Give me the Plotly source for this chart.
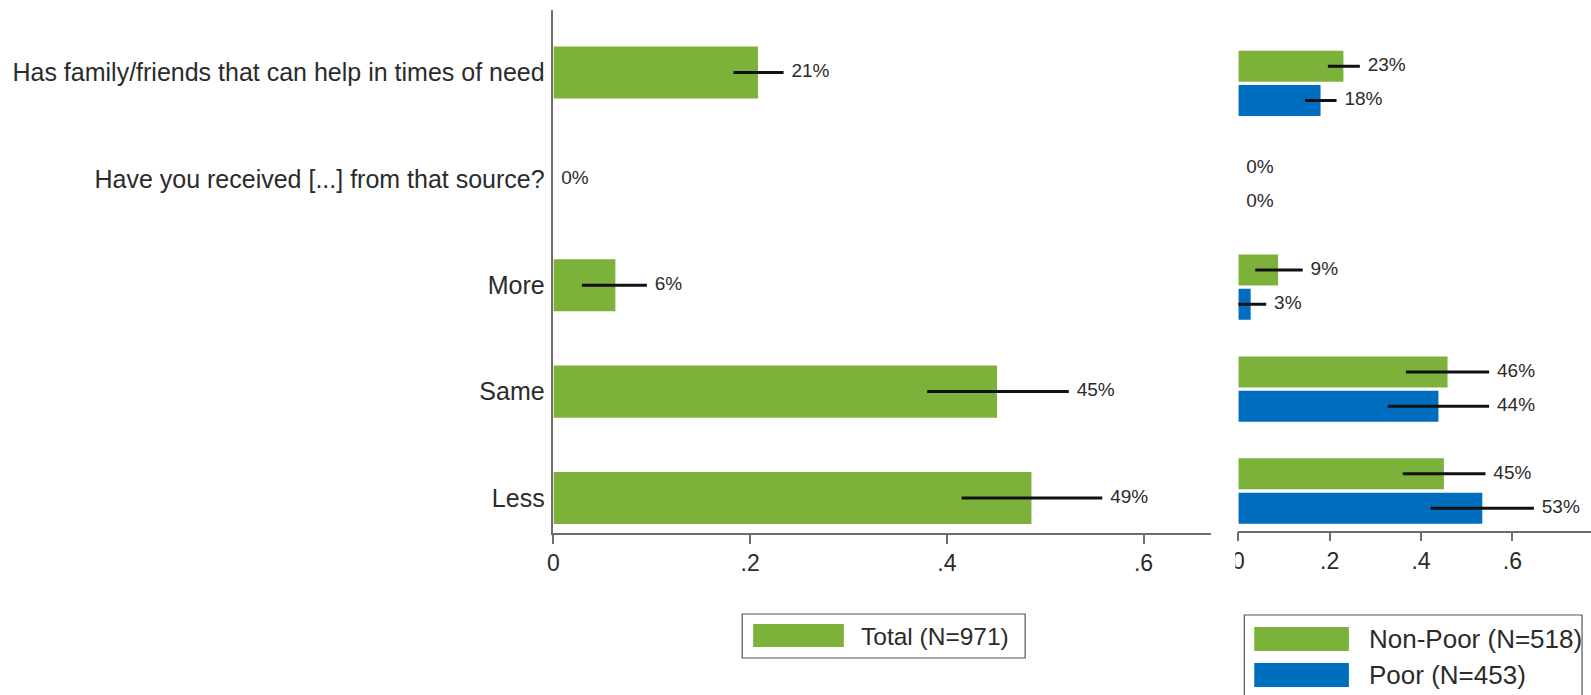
import plotly.graph_objects as go

W, H = 1591, 695

# ---------------- data ----------------
categories = [
    "Has family/friends that can help in times of need",
    "Have you received [...] from that source?",
    "More",
    "Same",
    "Less",
]
total_val = [0.208, 0.0, 0.063, 0.451, 0.486]
total_lo = [0.183, None, 0.029, 0.380, 0.415]
total_hi = [0.234, None, 0.095, 0.524, 0.558]

nonpoor_val = [0.230, 0.0, 0.087, 0.458, 0.450]
nonpoor_lo = [0.196, None, 0.037, 0.367, 0.360]
nonpoor_hi = [0.266, None, 0.141, 0.549, 0.541]

poor_val = [0.180, 0.0, 0.027, 0.438, 0.534]
poor_lo = [0.146, None, -0.005, 0.327, 0.421]
poor_hi = [0.215, None, 0.061, 0.549, 0.647]

tick_vals = [0, 0.2, 0.4, 0.6]
tick_text = ["0", ".2", ".4", ".6"]

legend_left = ["Total (N=971)"]
legend_right = ["Non-Poor (N=518)", "Poor (N=453)"]

# ---------------- style ----------------
GREEN = "#7cb13a"
BLUE = "#006ebe"
AXIS = "#6e6e6e"
TXT = "#2b2b2b"
FONT = "Liberation Sans, Arial, sans-serif"

pos = list(range(len(categories)))


def px(x):
    return x / W


def py(y):
    return 1 - y / H


def err_plus(val, hi):
    return [None if h is None else h - v for v, h in zip(val, hi)]


def err_minus(val, lo):
    return [None if l is None else v - l for v, l in zip(val, lo)]


def label_x(val, hi):
    return [v if h is None else max(v, h) for v, h in zip(val, hi)]


def labels(val):
    return ["%d%%" % round(v * 100) for v in val]


def bar(vals, lo, hi, color, xa, ya, width, offset=None, name=""):
    kw = {}
    if offset is not None:
        kw["offset"] = offset
    return go.Bar(
        y=pos, x=vals, orientation="h", width=width, name=name,
        marker=dict(color=color, line=dict(width=0)),
        error_x=dict(type="data", symmetric=False,
                     array=err_plus(vals, hi), arrayminus=err_minus(vals, lo),
                     width=0, thickness=3, color="#111111"),
        xaxis=xa, yaxis=ya, showlegend=False, hoverinfo="x+y", **kw)


def textlab(vals, hi, xa, ya, dy=0.0):
    return go.Scatter(
        x=label_x(vals, hi), y=[p + dy for p in pos], mode="markers+text",
        text=labels(vals), textposition="middle right",
        textfont=dict(size=19, color=TXT, family=FONT),
        marker=dict(size=11, opacity=0), xaxis=xa, yaxis=ya,
        showlegend=False, hoverinfo="skip", cliponaxis=False)


BW_L = 0.49
BW_R = 0.304
OFF_G = -0.32
OFF_B = 0.017

fig = go.Figure()
fig.add_trace(bar(total_val, total_lo, total_hi, GREEN, "x", "y", BW_L, name=legend_left[0]))
fig.add_trace(textlab(total_val, total_hi, "x", "y"))
fig.add_trace(bar(nonpoor_val, nonpoor_lo, nonpoor_hi, GREEN, "x2", "y2", BW_R, OFF_G, legend_right[0]))
fig.add_trace(bar(poor_val, poor_lo, poor_hi, BLUE, "x2", "y2", BW_R, OFF_B, legend_right[1]))
fig.add_trace(textlab(nonpoor_val, nonpoor_hi, "x2", "y2", OFF_G + BW_R / 2))
fig.add_trace(textlab(poor_val, poor_hi, "x2", "y2", OFF_B + BW_R / 2))

xcommon = dict(showline=True, linecolor=AXIS, linewidth=1.5, ticks="outside",
               ticklen=9, tickcolor=AXIS, tickwidth=1.5, tickvals=tick_vals,
               ticktext=tick_text, tickfont=dict(size=23, color=TXT, family=FONT),
               showgrid=False, zeroline=False, fixedrange=True)

shapes = [
    # legend (left)
    dict(type="rect", xref="paper", yref="paper", x0=px(739), x1=px(1023),
         y0=py(658), y1=py(614), line=dict(color="#555555", width=1.2),
         fillcolor="white"),
    dict(type="rect", xref="paper", yref="paper", x0=px(750), x1=px(841),
         y0=py(647), y1=py(624), line=dict(width=0), fillcolor=GREEN),
    # legend (right, cropped)
    dict(type="rect", xref="paper", yref="paper", x0=px(1243), x1=px(1582),
         y0=py(705), y1=py(615), line=dict(color="#555555", width=1.2),
         fillcolor="white"),
    dict(type="rect", xref="paper", yref="paper", x0=px(1253), x1=px(1348),
         y0=py(651), y1=py(627), line=dict(width=0), fillcolor=GREEN),
    dict(type="rect", xref="paper", yref="paper", x0=px(1253), x1=px(1348),
         y0=py(687), y1=py(663), line=dict(width=0), fillcolor=BLUE),
    # crop edge of right-hand graph
    dict(type="rect", xref="paper", yref="paper", x0=px(1220), x1=px(1234),
         y0=py(590), y1=py(545), line=dict(width=0), fillcolor="white",
         layer="above"),
]

annotations = [
    dict(xref="paper", yref="paper", x=px(856), y=py(636), text=legend_left[0],
         showarrow=False, xanchor="left", yanchor="middle",
         font=dict(size=24.5, color=TXT, family=FONT)),
    dict(xref="paper", yref="paper", x=px(1366), y=py(639), text=legend_right[0],
         showarrow=False, xanchor="left", yanchor="middle",
         font=dict(size=26, color=TXT, family=FONT)),
    dict(xref="paper", yref="paper", x=px(1366), y=py(675), text=legend_right[1],
         showarrow=False, xanchor="left", yanchor="middle",
         font=dict(size=26, color=TXT, family=FONT)),
]

fig.update_layout(
    width=W, height=H, autosize=False,
    margin=dict(l=0, r=0, t=0, b=0, pad=0),
    paper_bgcolor="white", plot_bgcolor="white",
    barmode="overlay",
    font=dict(family=FONT, color=TXT),
    xaxis=dict(domain=[px(549.5), px(1210)], range=[0, 0.669], anchor="y", **xcommon),
    yaxis=dict(domain=[py(533), py(10)], range=[4.329, -0.587], anchor="x",
               tickvals=pos, ticktext=categories, showline=True, linecolor=AXIS,
               linewidth=1.5, ticks="", showgrid=False, zeroline=False,
               tickfont=dict(size=25, color=TXT, family=FONT),
               ticklabelstandoff=2, fixedrange=True),
    xaxis2=dict(domain=[px(1237), 1.0], range=[0, 0.772], anchor="y2", **xcommon),
    yaxis2=dict(domain=[py(530.7), py(10)], range=[4.39, -0.719], anchor="x2",
                showline=False, showticklabels=False, ticks="", showgrid=False,
                zeroline=False, fixedrange=True),
    shapes=shapes,
    annotations=annotations,
)

fig.write_html("out.html")
